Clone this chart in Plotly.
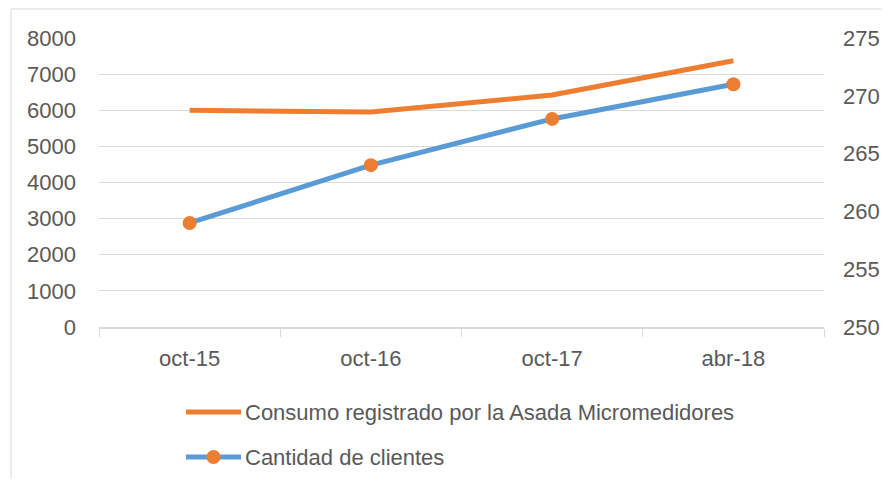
import plotly.graph_objects as go

categories = ["oct-15", "oct-16", "oct-17", "abr-18"]
consumo = [6000, 5950, 6420, 7370]
clientes = [259, 264, 268, 271]
left_ticks = [0, 1000, 2000, 3000, 4000, 5000, 6000, 7000, 8000]
right_ticks = [250, 255, 260, 265, 270, 275]
name_consumo = "Consumo registrado por la Asada Micromedidores"
name_clientes = "Cantidad de clientes"

ORANGE = "#ED7D31"
BLUE = "#5B9BD5"
GRID = "#D9D9D9"
TXT = "#595959"
FONT = "Liberation Sans"
FS = 22

OFF = 8  # default page body margin
W, H = 890 - OFF, 487 - 2 * OFF
# plot area in page pixels: x 99..824, y 38..327
L, T = 99 - OFF, 38 - OFF
R = W - (824 - OFF)
B = H - (327 - OFF)
pw, ph = W - L - R, H - T - B


def px(x):
    return (x - OFF - L) / pw


def py(y):
    return (H - B - (y - OFF)) / ph


fig = go.Figure()
fig.add_trace(go.Scatter(x=categories, y=consumo, mode="lines", name=name_consumo,
                         line=dict(color=ORANGE, width=5), yaxis="y", showlegend=False))
fig.add_trace(go.Scatter(x=categories, y=clientes, mode="lines+markers", name=name_clientes,
                         line=dict(color=BLUE, width=5),
                         marker=dict(color=ORANGE, size=14),
                         yaxis="y2", showlegend=False))

shapes = [
    dict(type="rect", xref="paper", yref="paper", x0=px(11), x1=px(900), y0=py(500), y1=py(9),
         line=dict(color=GRID, width=1), fillcolor="rgba(0,0,0,0)", layer="below"),
    dict(type="line", xref="paper", yref="paper", x0=px(186), x1=px(241), y0=py(412), y1=py(412),
         line=dict(color=ORANGE, width=5)),
    dict(type="line", xref="paper", yref="paper", x0=px(186), x1=px(241), y0=py(457), y1=py(457),
         line=dict(color=BLUE, width=5)),
    dict(type="circle", xref="paper", yref="paper", xsizemode="pixel", ysizemode="pixel",
         xanchor=px(213.5), yanchor=py(457), x0=-7, x1=7, y0=-7, y1=7,
         fillcolor=ORANGE, line=dict(color=ORANGE, width=0)),
]

annotations = [
    dict(xref="paper", yref="paper", x=px(243), y=py(412), text=name_consumo, showarrow=False,
         xanchor="left", yanchor="middle", font=dict(family=FONT, size=FS, color=TXT)),
    dict(xref="paper", yref="paper", x=px(243), y=py(457), text=name_clientes, showarrow=False,
         xanchor="left", yanchor="middle", font=dict(family=FONT, size=FS, color=TXT)),
]

fig.update_layout(
    width=W, height=H, autosize=False,
    margin=dict(l=L, r=R, t=T, b=B, autoexpand=False),
    paper_bgcolor="white", plot_bgcolor="white",
    font=dict(family=FONT, size=FS, color=TXT),
    xaxis=dict(type="category", range=[-0.5, 3.5], showgrid=False, automargin=False,
               showline=True, linecolor=GRID, linewidth=1.5,
               ticks="outside", tickson="boundaries", ticklen=8, tickcolor=GRID, tickwidth=1,
               ticklabelstandoff=11, tickfont=dict(family=FONT, size=FS, color=TXT)),
    yaxis=dict(range=[0, 8000], tickvals=left_ticks, showgrid=True, gridcolor=GRID, gridwidth=1,
               zeroline=False, showline=False, ticks="", ticklabelstandoff=22, automargin=False,
               tickfont=dict(family=FONT, size=FS, color=TXT)),
    yaxis2=dict(range=[250, 275], tickvals=right_ticks, overlaying="y", side="right",
                showgrid=False, zeroline=False, showline=False, ticks="", ticklabelstandoff=18,
                automargin=False, tickfont=dict(family=FONT, size=FS, color=TXT)),
    shapes=shapes,
    annotations=annotations,
    showlegend=False,
)

fig.write_html("out.html")
